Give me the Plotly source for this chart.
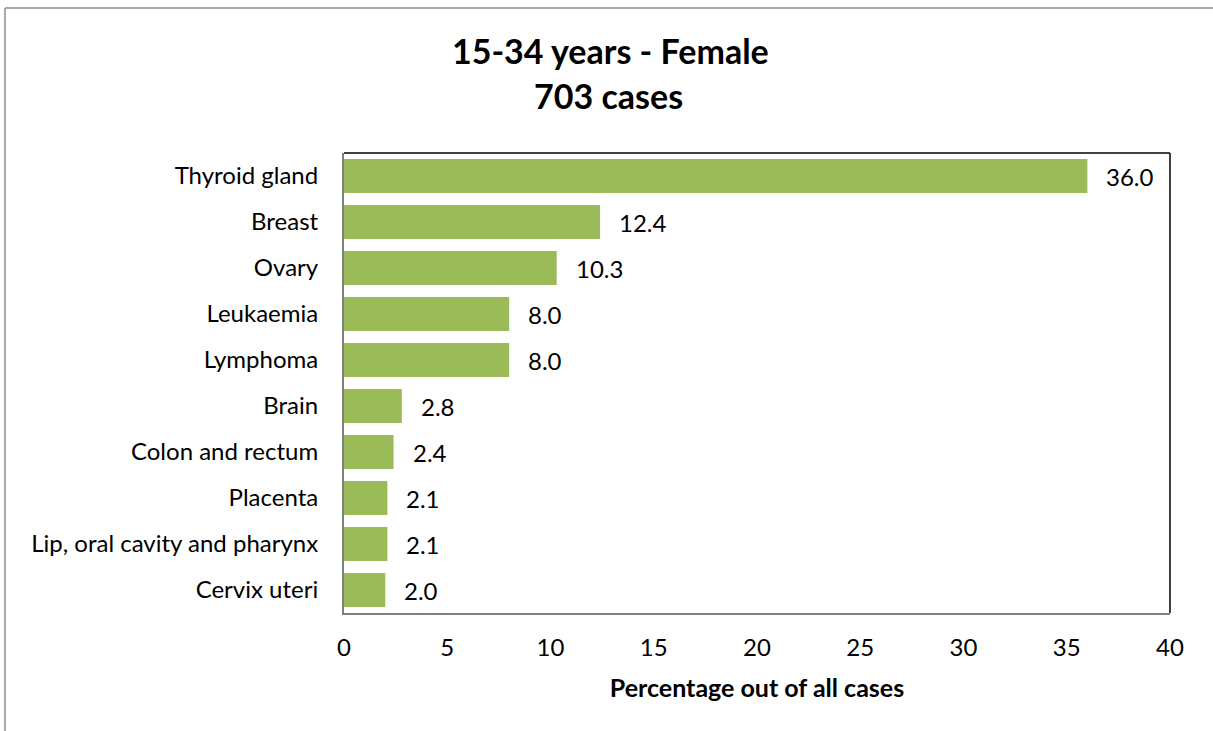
import plotly.graph_objects as go

categories = ["Thyroid gland", "Breast", "Ovary", "Leukaemia", "Lymphoma", "Brain",
              "Colon and rectum", "Placenta", "Lip, oral cavity and pharynx", "Cervix uteri"]
values = [36.0, 12.4, 10.3, 8.0, 8.0, 2.8, 2.4, 2.1, 2.1, 2.0]
tick_vals = [0, 5, 10, 15, 20, 25, 30, 35, 40]
title_lines = ["15-34 years - Female", "703 cases"]
x_title = "Percentage out of all cases"

FONT = "Lato"
W, H = 1213, 731
L, R, T, B = 344, 43, 153, 118
pw, ph = W - L - R, H - T - B

fig = go.Figure(go.Bar(
    x=values, y=categories, orientation="h",
    marker=dict(color="#9BBB59", line=dict(width=0)),
    hoverinfo="x+y",
))

for c, v in zip(categories, values):
    fig.add_annotation(x=v, y=c, text=f"{v:.1f}", showarrow=False,
                       xanchor="left", xshift=17, font=dict(family=FONT, size=24, color="black"))

def py(p):  # pixel y -> paper y
    return (H - B - p) / ph

def px(p):
    return (p - L) / pw

fig.add_annotation(x=px(610), xref="paper", y=py(51), yref="paper", text=f"<b>{title_lines[0]}</b>",
                   showarrow=False, font=dict(family=FONT, size=34, color="black"),
                   xanchor="center", yanchor="middle")
fig.add_annotation(x=px(608), xref="paper", y=py(96), yref="paper", text=f"<b>{title_lines[1]}</b>",
                   showarrow=False, font=dict(family=FONT, size=34, color="black"),
                   xanchor="center", yanchor="middle")

# outer border (left and top)
fig.add_shape(type="line", xref="paper", yref="paper", x0=px(5), x1=px(5), y0=py(8), y1=py(740),
              line=dict(color="#8C8C8C", width=1.5))
fig.add_shape(type="line", xref="paper", yref="paper", x0=px(5), x1=px(1230), y0=py(8), y1=py(8),
              line=dict(color="#8C8C8C", width=1.5))
# plot area top/right black
fig.add_shape(type="line", xref="paper", yref="paper", x0=0, x1=1, y0=1, y1=1,
              line=dict(color="black", width=1.5))
fig.add_shape(type="line", xref="paper", yref="paper", x0=1, x1=1, y0=0, y1=1,
              line=dict(color="black", width=1.5))

fig.update_layout(
    width=W, height=H,
    margin=dict(l=L, r=R, t=T, b=B, autoexpand=False),
    paper_bgcolor="white", plot_bgcolor="white",
    showlegend=False, bargap=0.26,
    font=dict(family=FONT, size=24, color="black"),
    xaxis=dict(range=[0, 40], tickvals=tick_vals, showgrid=False, zeroline=False,
               showline=True, linecolor="#808080", linewidth=2,
               ticks="", ticklabelstandoff=12, tickfont=dict(size=24),
               title=dict(text=f"<b>{x_title}</b>", font=dict(size=25), standoff=20)),
    yaxis=dict(categoryorder="array", categoryarray=categories[::-1],
               showgrid=False, zeroline=False, showline=True, linecolor="#808080", linewidth=2,
               ticks="", ticklabelstandoff=19, tickfont=dict(size=24)),
)

fig.write_html("out.html", config={"displayModeBar": False},
               post_script="document.body.style.margin='0';document.body.style.overflow='hidden';")
